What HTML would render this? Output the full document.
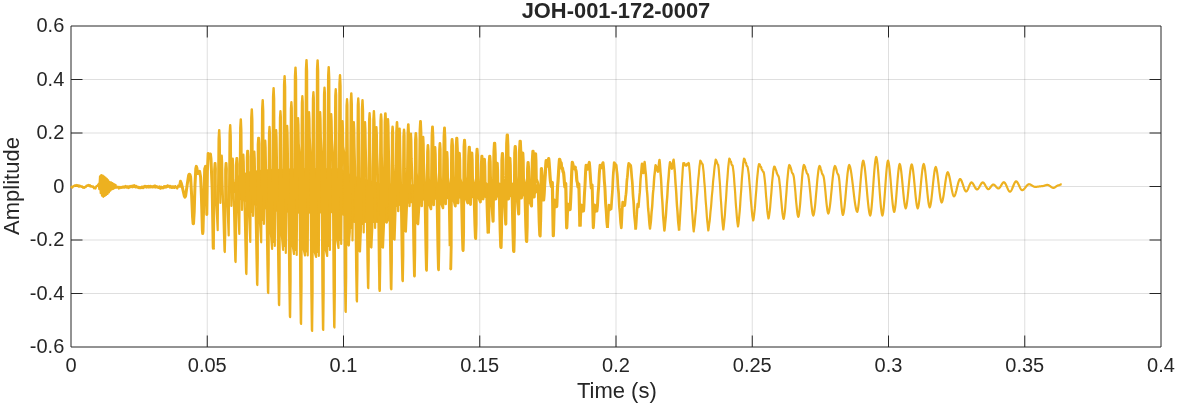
<!DOCTYPE html>
<html lang="en"><head><meta charset="utf-8"><title>JOH-001-172-0007</title>
<style>html,body{margin:0;padding:0;background:#fff}svg{display:block}text{font-family:"Liberation Sans",sans-serif;fill:#262626}</style></head><body>
<svg width="1177" height="404" viewBox="0 0 1177 404">
<rect width="1177" height="404" fill="#fff"/>
<path d="M207.25,26 V347 M343.50,26 V347 M479.75,26 V347 M616.00,26 V347 M752.25,26 V347 M888.50,26 V347 M1024.75,26 V347" stroke="#262626" stroke-opacity="0.15" stroke-width="1" fill="none"/>
<path d="M71,79.50 H1161 M71,133.00 H1161 M71,186.50 H1161 M71,240.00 H1161 M71,293.50 H1161" stroke="#262626" stroke-opacity="0.15" stroke-width="1" fill="none"/>
<path d="M71,26 H1161 V347 H71 Z" fill="none" stroke="#262626" stroke-width="1"/>
<path d="M207.25,26 v11.5 M207.25,347 v-11.5 M343.50,26 v11.5 M343.50,347 v-11.5 M479.75,26 v11.5 M479.75,347 v-11.5 M616.00,26 v11.5 M616.00,347 v-11.5 M752.25,26 v11.5 M752.25,347 v-11.5 M888.50,26 v11.5 M888.50,347 v-11.5 M1024.75,26 v11.5 M1024.75,347 v-11.5 M71,79.50 h11.5 M1161,79.50 h-11.5 M71,133.00 h11.5 M1161,133.00 h-11.5 M71,186.50 h11.5 M1161,186.50 h-11.5 M71,240.00 h11.5 M1161,240.00 h-11.5 M71,293.50 h11.5 M1161,293.50 h-11.5" stroke="#262626" stroke-width="1" fill="none"/>
<g fill="none" stroke="#EDB120" stroke-width="2.2" stroke-linejoin="round" stroke-linecap="butt">
<path d="M232.00,186.00 L232.95,188.74 L233.90,182.83 L234.85,192.22 L235.80,179.67 L236.75,195.71 L237.70,176.50 L238.65,198.27 L239.60,175.47 L240.55,199.06 L241.50,174.83 L242.45,199.85 L243.40,174.20 L244.35,200.65 L245.30,173.57 L246.25,201.44 L247.20,172.93 L248.15,202.23 L249.10,172.30 L250.05,203.02 L251.00,171.90 L251.95,203.68 L252.90,171.71 L253.85,204.35 L254.80,171.52 L255.75,205.01 L256.70,171.33 L257.65,205.68 L258.60,171.14 L259.55,206.34 L260.50,170.95 L261.45,207.01 L262.40,170.76 L263.35,207.67 L264.30,170.57 L265.25,208.34 L266.20,170.38 L267.15,209.00 L268.10,170.19 L269.05,209.67 L270.00,170.00 L270.95,210.09 L271.90,169.94 L272.85,210.28 L273.80,169.87 L274.75,210.47 L275.70,169.81 L276.65,210.66 L277.60,169.75 L278.55,210.85 L279.50,169.68 L280.45,211.04 L281.40,169.62 L282.35,211.23 L283.30,169.56 L284.25,211.42 L285.20,169.49 L286.15,211.61 L287.10,169.43 L288.05,211.80 L289.00,169.37 L289.95,211.99 L290.90,169.30 L291.85,212.18 L292.80,169.24 L293.75,212.37 L294.70,169.18 L295.65,212.56 L296.60,169.11 L297.55,212.75 L298.50,169.05 L299.45,212.94 L300.40,169.00 L301.35,212.97 L302.30,169.00 L303.25,212.92 L304.20,169.00 L305.15,212.87 L306.10,169.00 L307.05,212.82 L308.00,169.00 L308.95,212.78 L309.90,169.00 L310.85,212.73 L311.80,169.00 L312.75,212.68 L313.70,169.00 L314.65,212.63 L315.60,169.00 L316.55,212.59 L317.50,169.00 L318.45,212.54 L319.40,169.00 L320.35,212.49 L321.30,169.00 L322.25,212.44 L323.20,169.00 L324.15,212.40 L325.10,169.00 L326.05,212.35 L327.00,169.00 L327.95,212.30 L328.90,169.00 L329.85,212.25 L330.80,169.00 L331.75,212.21 L332.70,169.00 L333.65,212.16 L334.60,169.00 L335.55,212.11 L336.50,169.00 L337.45,212.06 L338.40,169.00 L339.35,212.02 L340.30,169.17 L341.25,213.04 L342.20,170.28 L343.15,214.62 L344.10,171.39 L345.05,216.21 L346.00,172.50 L346.95,217.79 L347.90,173.61 L348.85,219.37 L349.80,174.72 L350.75,220.96 L351.70,175.82 L352.65,222.00 L353.60,176.46 L354.55,222.00 L355.50,177.00 L356.45,222.00 L357.40,177.54 L358.35,222.00 L359.30,178.09 L360.25,222.00 L361.20,178.63 L362.15,222.00 L363.10,179.17 L364.05,222.00 L365.00,179.71 L365.95,222.00 L366.90,180.26 L367.85,222.00 L368.80,180.80 L369.75,222.00 L370.70,181.34 L371.65,222.00 L372.60,181.89 L373.55,222.00 L374.50,182.43 L375.45,222.00 L376.40,182.97 L377.35,222.00 L378.30,183.51 L379.25,222.00 L380.20,184.00 L381.15,222.00 L382.10,184.00 L383.05,222.00 L384.00,184.00 L384.95,222.00 L385.90,184.00 L386.85,222.00 L387.80,184.00 L388.75,220.50 L389.70,184.21 L390.65,216.70 L391.60,184.45 L392.55,212.90 L393.50,184.69 L394.45,209.10 L395.40,184.92 L396.35,205.91 L397.30,185.00 L398.25,205.44 L399.20,185.00 L400.15,204.96 L401.10,185.00 L402.05,204.49 L403.00,185.00 L403.95,204.01 L404.90,185.00 L405.85,203.54 L406.80,185.00 L407.75,203.06 L408.70,185.00 L409.65,202.59 L410.60,185.00 L411.55,202.11 L412.50,185.00 L413.45,201.64 L414.40,185.00 L415.35,201.16 L416.30,185.00 L417.25,200.69 L418.20,185.00 L419.15,200.21 L420.10,185.00 L421.05,199.93 L422.00,184.93 L422.95,199.80 L423.90,184.87 L424.85,199.68 L425.80,184.81 L426.75,199.55 L427.70,184.74 L428.65,199.42 L429.60,184.68 L430.55,199.30 L431.50,184.62 L432.45,199.17 L433.40,184.55 L434.35,199.04 L435.30,184.49 L436.25,198.92 L437.20,184.43 L438.15,198.79 L439.10,184.36 L440.05,198.66 L441.00,184.30 L441.95,198.54 L442.90,184.24 L443.85,198.41 L444.80,184.17 L445.75,198.28 L446.70,184.11 L447.65,198.16 L448.60,184.05 L449.55,198.03 L450.50,184.00 L451.45,197.95 L452.40,184.00 L453.35,197.89 L454.30,184.00 L455.25,197.83 L456.20,184.00 L457.15,197.76 L458.10,184.00 L459.05,197.70 L460.00,184.00 L460.95,197.64 L461.90,184.00 L462.85,197.57 L463.80,184.00 L464.75,197.51 L465.70,184.00 L466.65,197.45 L467.60,184.00 L468.55,197.38 L469.50,184.00 L470.45,197.32 L471.40,184.00 L472.35,197.26 L473.30,184.00 L474.25,197.19 L475.20,184.00 L476.15,197.13 L477.10,184.00 L478.05,197.07 L479.00,184.00 L479.95,197.00 L480.90,184.00 L481.85,196.95 L482.80,184.00 L483.75,196.91 L484.70,184.00 L485.65,196.86 L486.60,184.00 L487.55,196.81 L488.50,184.00 L489.45,196.76 L490.40,184.00 L491.35,196.72 L492.30,184.00 L493.25,196.67 L494.20,184.00 L495.15,196.62 L496.10,184.00 L497.05,196.57 L498.00,184.00 L498.95,196.53 L499.90,184.00 L500.85,196.48 L501.80,184.00 L502.75,196.43 L503.70,184.00 L504.65,196.38 L505.60,184.00 L506.55,196.34 L507.50,184.00 L508.45,196.29 L509.40,184.00 L510.35,196.24 L511.30,184.00 L512.25,196.19 L513.20,184.00 L514.15,196.15 L515.10,184.00 L516.05,196.10 L517.00,184.00 L517.95,196.05 L518.90,184.00 L519.85,196.00 L520.80,184.05 L521.75,195.67 L522.70,184.17 L523.65,195.32 L524.60,184.29 L525.55,194.96 L526.50,184.41 L527.45,194.60 L528.40,184.52 L529.35,194.25 L530.30,184.64 L531.25,193.89 L532.20,184.76 L533.15,193.53 L534.10,184.88 L535.05,193.18 L536.00,185.00 L536.95,192.21 L537.90,185.32 L538.85,190.63 L539.80,185.63 L540.75,189.04 L541.70,185.95 M251.65,200.0 V213.0 M262.55,200.0 V221.0 M273.45,200.0 V243.0 M284.45,200.0 V247.0 M295.35,200.0 V251.0 M306.35,200.0 V252.5 M317.45,200.0 V253.0 M328.55,200.0 V247.0 M339.85,200.0 V241.0 M351.15,200.0 V229.0 M362.35,200.0 V225.0 M373.75,200.0 V223.0 M385.25,200.0 V219.5"/>
<path d="M71.00,187.82 L71.63,186.76 L72.23,187.61 L72.96,186.39 L73.77,186.47 L74.53,185.41 L75.14,185.91 L76.09,184.97 L76.76,185.92 L77.78,185.15 L78.53,186.62 L79.11,185.45 L79.81,186.54 L80.43,185.82 L81.38,186.87 L82.22,186.35 L82.95,187.72 L83.55,187.06 L84.20,187.96 L84.97,186.76 L85.81,187.14 L86.51,185.54 L87.41,185.97 L88.25,184.82 L89.23,186.01 L89.92,185.04 L90.54,186.51 L91.46,186.09 L92.26,186.83 L93.14,186.44 L93.97,188.40 L94.68,187.58 L95.53,188.48 L96.31,186.28 L97.32,185.87 L98.60,184.00 L99.30,189.20 L100.00,176.30 L100.70,193.20 L101.30,175.00 L102.00,195.70 L102.70,175.60 L103.30,196.80 L104.00,176.60 L104.70,196.00 L105.40,177.60 L106.10,195.00 L106.80,178.80 L107.50,194.00 L108.20,180.30 L108.90,192.40 L109.60,182.00 L110.30,190.60 L111.00,182.40 L111.70,189.50 L112.40,183.00 L113.10,188.90 L113.90,184.00 L114.70,188.10 L115.50,184.80 L116.30,187.60 L117.00,187.66 L117.84,186.56 L118.81,188.57 L119.47,186.91 L120.29,187.99 L121.02,186.86 L121.60,187.77 L122.47,186.58 L123.11,187.68 L124.03,186.38 L124.75,187.64 L125.68,185.89 L126.59,187.55 L127.30,186.30 L128.22,188.07 L128.82,186.41 L129.45,187.49 L130.19,185.94 L130.83,187.07 L131.55,185.78 L132.33,187.37 L133.16,185.41 L133.97,187.06 L134.51,185.19 L135.39,187.42 L136.27,185.99 L136.98,187.47 L137.79,186.79 L138.34,188.04 L138.94,186.95 L139.49,188.16 L140.08,187.26 L140.77,188.19 L141.69,186.73 L142.28,188.03 L142.96,186.53 L143.55,188.03 L144.52,186.02 L145.26,187.13 L145.83,185.90 L146.47,187.54 L147.07,186.11 L148.03,187.44 L148.62,185.91 L149.15,187.55 L150.12,185.80 L150.96,187.40 L151.65,186.18 L152.52,187.41 L153.40,185.84 L154.02,187.41 L154.99,185.41 L155.88,187.49 L156.73,186.11 L157.49,187.60 L158.03,186.65 L158.68,187.95 L159.52,186.51 L160.24,188.79 L161.21,186.72 L161.90,188.31 L162.53,187.03 L163.15,188.27 L164.08,186.09 L164.82,187.68 L165.70,186.03 L166.52,187.39 L167.40,185.34 L168.14,186.85 L169.02,185.75 L169.91,187.65 L170.61,185.99 L171.56,187.74 L172.16,186.35 L172.76,187.92 L173.64,186.31 L174.54,187.87 L175.36,186.05 L176.13,187.24 L177.20,188.50 L178.30,185.50 L179.20,187.50" stroke-width="2.2"/>
<path d="M179.20,187.50 L179.90,184.50 L180.50,181.30 L181.20,183.00 L182.50,188.00 L184.30,196.00 L184.90,197.20 L185.60,196.00 L187.30,184.00 L188.60,175.50 L189.20,174.20 L189.90,174.40 L190.60,177.00 L191.60,195.00 L192.60,217.40 L193.10,223.70 L193.50,223.70 L194.20,212.00 L195.00,185.00 L195.80,168.50 L196.30,166.40 L196.90,168.00 L197.60,173.50 L198.40,172.50 L199.60,171.30 L200.60,177.00 L201.40,196.00 L202.40,230.40 L202.70,233.60 L203.00,231.40 L203.80,200.00 L204.70,169.00 L205.50,166.40 L206.20,171.00 L206.80,214.50 L207.40,171.00 L208.20,153.40 L209.30,158.00 L210.40,154.00 L211.00,159.00 L212.20,190.00 L213.20,247.40 L213.50,249.40" stroke-width="3.0"/>
<path d="M213.50,249.40 L213.90,234.40 L214.29,202.30 L214.24,169.80 L214.69,163.20 L215.39,163.20 L215.79,168.80 L215.69,176.00 L215.80,200.00 L216.30,202.00 L217.70,230.20 L218.30,167.52 L218.58,138.60 L219.08,130.00 L219.32,130.00 L219.80,140.60 L220.40,203.00 L221.40,162.50 L221.80,155.70 L222.15,162.50 L222.45,181.00 L223.95,233.95 L224.50,251.00 L224.80,252.00 L225.25,233.95 L225.29,202.30 L225.24,169.80 L225.69,163.20 L226.39,163.20 L226.79,168.80 L226.69,176.00 L226.80,200.00 L227.30,202.00 L228.70,235.50 L229.30,166.56 L229.58,133.80 L230.08,125.20 L230.32,125.20 L230.80,135.80 L231.40,206.00 L232.40,165.50 L232.80,158.70 L233.15,165.50 L233.45,184.00 L234.75,241.15 L235.30,261.00 L235.60,262.00 L236.05,241.15 L236.06,197.30 L236.01,164.80 L236.46,158.20 L237.16,158.20 L237.56,163.80 L237.46,176.00 L237.40,200.00 L237.90,205.00 L239.30,234.00 L239.90,162.33 L240.18,127.90 L240.68,119.30 L240.92,119.30 L241.40,129.90 L242.00,210.00 L243.00,161.50 L243.40,154.70 L243.75,161.50 L244.05,180.00 L245.55,249.79 L246.10,273.00 L246.40,274.00 L246.85,249.79 L246.89,190.00 L246.84,157.50 L247.29,150.90 L247.99,150.90 L248.39,156.50 L248.29,176.00 L248.40,198.00 L248.90,212.00 L250.30,241.90 L250.90,159.13 L251.18,117.90 L251.68,109.30 L251.92,109.30 L252.40,119.90 L253.00,216.00 L254.00,158.50 L254.40,151.70 L254.75,158.50 L255.05,177.00 L256.50,257.71 L257.05,284.00 L257.35,285.00 L257.80,257.71 L257.83,177.00 L257.78,144.50 L258.23,137.90 L258.93,137.90 L259.33,143.50 L259.23,176.00 L259.30,185.00 L259.80,220.00 L261.20,242.30 L261.80,153.64 L262.08,108.80 L262.58,100.20 L262.82,100.20 L263.30,110.80 L263.90,224.00 L264.90,147.50 L265.30,140.70 L265.65,147.50 L265.95,166.00 L267.40,263.47 L267.95,292.00 L268.25,293.00 L268.70,263.47 L268.73,166.00 L268.98,133.50 L269.43,126.90 L269.53,126.90 L269.93,132.50 L270.13,166.00 L270.20,174.00 L270.70,231.00 L272.10,249.00 L272.70,148.75 L272.98,96.80 L273.48,88.20 L273.72,88.20 L274.20,98.80 L274.80,246.00 L275.80,136.80 L276.20,130.00 L276.55,136.80 L276.85,155.30 L278.35,272.18 L278.90,304.10 L279.20,305.10 L279.65,272.18 L279.69,150.30 L279.94,117.80 L280.39,111.20 L280.49,111.20 L280.89,116.80 L281.09,150.30 L281.20,168.00 L281.70,234.00 L283.10,250.00 L283.70,141.69 L283.98,84.80 L284.48,76.20 L284.72,76.20 L285.20,86.80 L285.80,253.00 L286.80,132.70 L287.20,125.90 L287.55,132.70 L287.85,151.20 L289.30,280.82 L289.85,316.10 L290.15,317.10 L290.60,280.82 L290.63,141.30 L290.88,108.80 L291.33,102.20 L291.43,102.20 L291.83,107.80 L292.03,141.30 L292.10,168.00 L292.60,245.00 L294.00,254.00 L294.60,137.81 L294.88,76.10 L295.38,67.50 L295.62,67.50 L296.10,78.10 L296.70,255.00 L297.70,124.80 L298.10,118.00 L298.45,124.80 L298.75,143.30 L299.40,152.00 L300.25,285.72 L300.80,322.90 L301.10,323.90 L301.55,285.72 L301.59,135.30 L301.84,102.80 L302.29,96.20 L302.39,96.20 L302.79,101.80 L302.99,135.30 L303.10,168.00 L303.60,249.00 L305.00,255.50 L305.60,133.79 L305.88,68.70 L306.38,60.10 L306.62,60.10 L307.10,70.70 L307.70,255.50 L308.70,118.80 L309.10,112.00 L309.45,118.80 L309.75,137.30 L310.45,152.00 L311.30,290.76 L311.85,329.90 L312.15,330.90 L312.60,290.76 L312.65,131.30 L312.90,98.80 L313.35,92.20 L313.45,92.20 L313.85,97.80 L314.05,131.30 L314.20,168.00 L314.70,252.00 L316.10,257.00 L316.70,134.49 L316.98,68.90 L317.48,60.30 L317.72,60.30 L318.20,70.90 L318.80,256.00 L319.80,118.80 L320.20,112.00 L320.55,118.80 L320.85,137.30 L321.55,152.00 L322.40,290.04 L322.95,328.90 L323.25,329.90 L323.70,290.04 L323.75,126.70 L324.00,94.20 L324.45,87.60 L324.55,87.60 L324.95,93.20 L325.15,126.70 L325.30,168.00 L325.80,250.00 L327.20,256.00 L327.80,138.32 L328.08,75.70 L328.58,67.10 L328.82,67.10 L329.30,77.70 L329.90,250.00 L330.90,121.00 L331.30,114.20 L331.65,121.00 L331.95,139.50 L332.75,152.00 L333.60,288.31 L334.15,326.50 L334.45,327.50 L334.90,288.31 L334.97,128.30 L335.22,95.80 L335.67,89.20 L335.77,89.20 L336.17,94.80 L336.37,128.30 L336.60,168.00 L337.10,240.00 L338.50,248.00 L339.10,140.31 L339.38,83.80 L339.88,75.20 L340.12,75.20 L340.60,85.80 L341.20,244.00 L342.20,128.00 L342.60,121.20 L342.95,128.00 L343.25,146.50 L344.05,152.00 L344.90,277.08 L345.45,310.90 L345.75,311.90 L346.20,277.08 L346.27,138.30 L346.52,105.80 L346.97,99.20 L347.07,99.20 L347.47,104.80 L347.67,138.30 L347.90,168.00 L347.95,244.50 L348.80,245.50 L349.80,232.00 L350.40,145.51 L350.68,102.00 L351.18,93.40 L351.42,93.40 L351.90,104.00 L352.50,240.50 L353.50,129.00 L353.90,122.20 L354.25,129.00 L354.55,147.50 L355.05,168.00 L356.15,269.59 L356.70,300.50 L357.00,301.50 L357.45,269.59 L357.51,137.50 L357.76,105.00 L358.21,98.40 L358.31,98.40 L358.71,104.00 L358.91,137.50 L359.10,168.00 L359.15,250.50 L360.00,251.50 L361.00,228.00 L361.60,148.21 L361.88,108.80 L362.38,100.20 L362.62,100.20 L363.10,110.80 L363.70,232.50 L364.70,129.00 L365.10,122.20 L365.45,129.00 L365.75,147.50 L366.35,168.00 L367.45,260.01 L368.00,287.20 L368.30,288.20 L368.75,260.01 L368.82,152.30 L369.07,119.80 L369.52,113.20 L369.62,113.20 L370.02,118.80 L370.22,152.30 L370.50,168.00 L370.55,246.50 L371.40,247.50 L372.40,226.00 L373.00,154.27 L373.28,119.80 L373.78,111.20 L374.02,111.20 L374.50,121.80 L375.10,228.00 L376.10,134.00 L376.50,127.20 L376.85,134.00 L377.15,152.50 L377.80,168.00 L378.90,261.88 L379.45,289.80" stroke-width="2.2"/>
<path d="M379.45,289.80 L379.75,290.80 L380.20,261.88 L380.28,153.50 L380.53,121.00 L380.98,114.40 L381.08,114.40 L381.48,120.00 L381.68,153.50 L382.00,168.00 L382.05,246.50 L382.90,247.50 L383.90,224.00 L384.50,154.87 L384.78,122.00 L385.28,113.40 L385.52,113.40 L386.00,124.00 L386.60,222.50 L387.60,126.00 L388.00,119.20 L388.35,126.00 L388.65,144.50 L389.37,184.00 L390.45,260.73 L391.00,288.20 L391.30,289.20 L391.75,260.73 L391.84,165.90 L392.09,133.40 L392.54,126.80 L392.64,126.80 L393.04,132.40 L393.24,165.90 L393.60,173.90 L393.65,238.50 L394.50,239.50 L395.50,208.00 L396.10,154.25 L396.38,130.80 L396.88,122.20 L397.12,122.20 L397.60,132.80 L398.20,211.00 L399.20,135.40 L399.60,128.60 L399.95,135.40 L400.25,153.90 L400.82,184.00 L401.90,254.83 L402.45,280.00 L402.75,281.00 L403.20,254.83 L403.27,168.90 L403.52,136.40 L403.97,129.80 L404.07,129.80 L404.47,135.40 L404.67,168.90 L404.90,176.90 L404.95,230.50 L405.80,231.50 L406.80,207.00 L407.40,155.23 L407.68,133.00 L408.18,124.40 L408.42,124.40 L408.90,135.00 L409.50,206.00 L410.50,140.40 L410.90,133.60 L411.25,140.40 L411.55,158.90 L412.57,184.00 L413.65,251.37 L414.20,275.20 L414.50,276.20" stroke-width="2.4"/>
<path d="M414.20,275.20 L414.50,276.20 L414.95,251.37 L415.09,172.50 L415.34,140.00 L415.79,133.40 L415.89,133.40 L416.29,139.00 L416.49,172.50 L417.10,180.50 L417.15,223.00 L418.00,224.00 L419.00,207.00 L419.60,153.25 L419.88,129.80 L420.38,121.20 L420.62,121.20 L421.10,131.80 L421.70,206.00 L422.70,143.80 L423.10,137.00 L423.45,143.80 L423.75,162.30 L424.67,184.00 L425.75,247.27 L426.30,269.50 L426.60,270.50 L427.05,247.27 L427.17,184.50 L427.42,152.00 L427.87,145.40 L427.97,145.40 L428.37,151.00 L428.57,176.00 L429.10,192.50 L429.60,205.00 L431.00,209.00 L431.60,157.48 L431.88,135.40 L432.38,126.80 L432.62,126.80 L433.10,137.40 L433.70,205.00 L434.70,154.00 L435.10,147.20 L435.45,154.00 L435.75,172.50 L436.67,184.00 L437.75,246.84 L438.30,268.90 L438.60,269.90 L439.05,246.84 L439.17,182.50 L439.42,150.00 L439.87,143.40 L439.97,143.40 L440.37,149.00 L440.57,176.00 L441.10,190.50 L441.60,204.00 L443.00,208.00 L443.60,157.72 L443.88,136.40 L444.38,127.80 L444.62,127.80 L445.10,138.40 L445.70,204.00 L446.70,159.00 L447.10,152.20 L447.45,159.00 L447.75,177.50 L448.82,184.00 L449.90,246.12" stroke-width="2.6"/>
<path d="M450.45,267.90 L450.75,268.90 L451.20,246.12 L451.35,178.60 L451.60,146.10 L452.05,139.50 L452.15,139.50 L452.55,145.10 L452.75,176.00 L453.40,186.60 L453.90,200.00 L455.30,206.00 L455.90,163.41 L456.18,146.80 L456.68,138.20 L456.92,138.20 L457.40,148.80 L458.00,203.00 L459.00,159.90 L459.40,153.10 L459.75,159.90 L460.05,178.40 L461.22,184.00 L462.30,232.87 L462.85,249.50 L463.15,250.50 L463.60,232.87 L463.76,179.30 L464.01,146.80 L464.46,140.20 L464.56,140.20 L464.96,145.80 L465.16,176.00 L465.90,187.30 L466.40,199.00 L467.80,203.00 L468.40,167.78 L468.68,155.70 L469.18,147.10 L469.42,147.10 L469.90,157.70 L470.50,204.50 L471.50,159.70 L471.90,152.90 L472.25,159.70 L472.55,178.20 L473.77,184.00 L474.85,224.30 L475.40,237.60 L475.70,238.60 L476.15,224.30 L476.32,188.30 L476.57,155.80 L477.02,149.20 L477.12,149.20 L477.52,154.80 L477.72,176.00 L478.50,196.30 L479.00,198.30 L480.40,202.00 L481.00,173.11 L481.28,164.90 L481.78,156.30 L482.02,156.30 L482.50,166.90 L483.10,199.00 L484.10,166.10 L484.50,159.30 L484.85,166.10 L485.15,184.60 L486.42,184.00 L487.50,220.56 L488.05,232.40 L488.35,233.40" stroke-width="2.9"/>
<path d="M488.35,233.40 L488.80,220.56 L488.98,195.40 L489.23,162.90 L489.68,156.30 L489.78,156.30 L490.18,161.90 L490.38,176.00 L491.20,200.00 L491.70,202.00 L493.10,221.30 L493.70,172.32 L493.98,151.80 L494.48,143.20 L494.72,143.20 L495.20,153.80 L495.80,199.00 L496.80,170.00 L497.20,163.20 L497.55,170.00 L497.85,188.50 L499.12,184.00 L500.20,230.71 L500.75,246.50 L501.05,247.50 L501.50,230.71 L501.68,192.70 L501.93,160.20 L502.38,153.60 L502.48,153.60 L502.88,159.20 L503.08,176.00 L503.90,200.00 L504.40,202.00 L505.80,224.10 L506.40,168.36 L506.68,143.70 L507.18,135.10 L507.42,135.10 L507.90,145.70 L508.50,199.00 L509.50,165.00 L509.90,158.20 L510.25,165.00 L510.55,183.50 L511.92,184.00 L513.00,233.59 L513.55,250.50 L513.85,251.50 L514.30,233.59 L514.49,185.70 L514.74,153.20 L515.19,146.60 L515.29,146.60 L515.69,152.20 L515.89,176.00 L516.80,193.70 L517.30,199.00 L518.70,214.00 L519.30,168.31 L519.58,149.80 L520.08,141.20 L520.32,141.20 L520.80,151.80 L521.40,198.00 L522.40,159.90 L522.80,153.10 L523.15,159.90 L523.45,178.40 L524.77,184.00 L525.85,226.39 L526.40,240.50 L526.70,241.50 L527.15,226.39 L527.34,201.70 L527.59,169.20 L528.04,162.60 L528.14,162.60 L528.54,168.20 L528.74,176.00 L529.60,200.00 L530.10,202.00 L531.50,206.00 L532.10,171.59 L532.38,160.00 L532.88,151.40 L533.12,151.40 L533.60,162.00 L534.20,197.00 L535.20,160.50 L535.60,153.70 L535.95,160.50 L536.25,179.00 L538.17,184.00 L539.25,222.36 L539.80,234.90 L540.10,235.90 L540.50,222.00" stroke-width="3.1"/>
<path d="M540.55,222.36 L540.50,222.00 L540.73,210.73 L540.95,195.25 L541.17,179.77 L541.40,168.50 L541.60,170.52 L541.80,173.00 L542.00,175.89 L542.20,179.10 L542.40,182.51 L542.60,185.99 L542.80,189.40 L543.00,192.61 L543.20,195.50 L543.40,197.98 L543.60,200.00 L543.80,198.09 L544.00,195.84 L544.20,192.78 L544.40,188.93 L544.60,184.89 L544.80,181.34 L545.00,178.40 L545.20,175.55 L545.40,172.19 L545.60,168.36 L545.80,164.79 L546.00,162.16 L546.20,160.50 L546.44,161.41 L546.68,162.66 L546.92,164.04 L547.16,165.29 L547.40,166.20 L547.62,165.22 L547.83,163.91 L548.05,162.40 L548.27,160.89 L548.48,159.58 L548.70,158.60 L548.91,160.52 L549.12,162.96 L549.33,165.81 L549.54,168.94 L549.76,172.16 L549.97,175.29 L550.18,178.14 L550.39,180.58 L550.60,182.50 L550.87,183.71 L551.13,185.29 L551.40,186.50 L551.62,185.66 L551.85,184.50 L552.07,183.34 L552.30,182.50 L552.50,191.01 L552.70,202.64 L552.90,215.46 L553.10,227.09 L553.30,235.60 L553.52,229.89 L553.74,222.10 L553.96,213.50 L554.18,205.71 L554.40,200.00 L554.63,201.96 L554.87,204.54 L555.10,206.50 L555.37,205.44 L555.63,204.06 L555.90,203.00 L556.10,203.74 L556.30,204.75 L556.50,205.76 L556.70,206.50 L556.93,202.18 L557.15,196.25 L557.38,190.32 L557.60,186.00 L557.81,183.86 L558.02,181.15 L558.23,177.98 L558.44,174.49 L558.66,170.91 L558.87,167.42 L559.08,164.25 L559.29,161.54 L559.50,159.40 L559.70,159.41 L559.90,159.83 L560.10,160.98 L560.30,162.38 L560.50,163.22 L560.70,163.12 L560.90,162.62 L561.10,162.76 L561.30,164.10 L561.50,166.22 L561.70,168.00 L561.90,168.63 L562.10,168.26 L562.30,167.86 L562.50,168.31 L562.70,169.63 L562.90,171.10 L563.10,171.95 L563.30,172.10 L563.50,172.20 L563.73,174.11 L563.97,176.66 L564.20,179.60 L564.43,182.54 L564.67,185.09 L564.90,187.00 L565.10,186.26 L565.30,185.25 L565.50,184.24 L565.70,183.50 L565.90,190.60 L566.10,200.30 L566.30,211.00 L566.50,220.70 L566.70,227.80 L566.92,223.99 L567.14,218.77 L567.36,213.03 L567.58,207.81 L567.80,204.00 L568.03,205.81 L568.27,208.19 L568.50,210.00 L568.77,208.79 L569.03,207.21 L569.30,206.00 L569.50,206.74 L569.70,207.75 L569.90,208.76 L570.10,209.50 L570.32,206.14 L570.54,201.95 L570.76,197.05 L570.98,191.64 L571.20,185.95 L571.42,180.26 L571.64,174.85 L571.86,169.95 L572.08,165.76 L572.30,162.40 L572.51,162.98 L572.72,163.73 L572.94,164.60 L573.15,165.55 L573.36,166.50 L573.58,167.37 L573.79,168.12 L574.00,168.70 L574.22,168.51 L574.43,168.25 L574.65,167.95 L574.87,167.65 L575.08,167.39 L575.30,167.20 L575.51,168.80 L575.72,169.94 L575.92,170.49 L576.13,171.32 L576.34,173.34 L576.55,176.42 L576.75,179.36 L576.96,181.10 L577.17,181.75 L577.38,182.39 L577.58,183.83 L577.79,185.73 L578.00,187.00 L578.27,186.09 L578.53,184.91 L578.80,184.00 L579.00,189.47 L579.20,196.82 L579.40,205.25 L579.60,213.68 L579.80,221.03 L580.00,226.50" stroke-width="3.2"/>
<path d="M580.00,226.50 L580.20,223.73 L580.40,220.01 L580.60,215.75 L580.80,211.49 L581.00,207.77 L581.20,205.00 L581.43,206.96 L581.67,209.54 L581.90,211.50 L582.10,210.55 L582.30,209.25 L582.50,207.95 L582.70,207.00 L582.97,208.21 L583.23,209.79 L583.50,211.00 L583.70,209.10 L583.90,206.16 L584.10,201.99 L584.30,197.33 L584.50,193.25 L584.70,190.04 L584.90,186.98 L585.10,183.12 L585.30,178.34 L585.50,173.53 L585.70,169.74 L585.90,167.21 L586.10,165.20 L586.31,165.63 L586.53,166.19 L586.74,166.85 L586.96,167.55 L587.17,168.21 L587.39,168.77 L587.60,169.20 L587.81,168.57 L588.02,167.77 L588.24,166.82 L588.45,165.80 L588.66,164.78 L588.88,163.83 L589.09,163.03 L589.30,162.40 L589.50,164.23 L589.70,166.50 L589.90,169.17 L590.10,172.11 L590.30,175.20 L590.50,178.29 L590.70,181.23 L590.90,183.90 L591.10,186.17 L591.30,188.00 L591.50,187.37 L591.70,186.50 L591.90,185.63 L592.10,185.00 L592.34,191.84 L592.58,201.20 L592.82,211.50 L593.06,220.86 L593.30,227.70 L593.52,224.78 L593.73,220.85 L593.95,216.35 L594.17,211.85 L594.38,207.92 L594.60,205.00 L594.83,206.96 L595.07,209.54 L595.30,211.50 L595.50,210.55 L595.70,209.25 L595.90,207.95 L596.10,207.00 L596.37,208.21 L596.63,209.79 L596.90,211.00 L597.10,209.14 L597.30,207.43 L597.50,205.05 L597.70,201.58 L597.90,197.45 L598.10,193.65 L598.30,190.79 L598.50,188.54 L598.70,185.94 L598.90,182.33 L599.10,178.03 L599.30,174.02 L599.50,171.08 L599.70,169.10 L599.90,167.34 L600.10,165.20 L600.33,165.52 L600.57,165.95 L600.80,166.45 L601.03,166.95 L601.27,167.38 L601.50,167.70 L601.71,167.16 L601.93,166.46 L602.14,165.63 L602.36,164.77 L602.57,163.94 L602.79,163.24 L603.00,162.70 L603.20,164.69 L603.41,166.45 L603.61,168.59 L603.82,171.64 L604.02,175.40 L604.23,179.10 L604.43,182.05 L604.64,184.37 L604.84,186.90 L605.05,190.46 L605.25,195.06 L605.45,199.82 L605.66,203.71 L605.86,206.46 L606.07,208.73 L606.27,211.42 L606.48,214.89 L606.68,218.63 L606.89,221.83 L607.09,224.13 L607.30,225.90 L607.50,227.80" stroke-width="3.0"/>
<path d="M607.50,227.80 L607.73,224.86 L607.97,220.92 L608.20,216.40 L608.43,211.88 L608.67,207.94 L608.90,205.00 L609.13,206.51 L609.37,208.49 L609.60,210.00 L609.87,208.79 L610.13,207.21 L610.40,206.00 L610.63,206.91 L610.87,208.09 L611.10,209.00 L611.31,207.16 L611.51,204.19 L611.72,200.71 L611.93,197.57 L612.13,195.05 L612.34,192.48 L612.55,188.96 L612.75,184.34 L612.96,179.48 L613.17,175.48 L613.37,172.68 L613.58,170.45 L613.79,167.96 L613.99,165.14 L614.20,162.70 L614.40,162.86 L614.60,163.07 L614.80,163.31 L615.00,163.57 L615.20,163.85 L615.40,164.13 L615.60,164.39 L615.80,164.63 L616.00,164.84 L616.20,165.00 L616.40,166.86 L616.61,168.98 L616.81,170.84 L617.02,172.41 L617.22,174.22 L617.42,176.86 L617.63,180.34 L617.83,184.00 L618.04,187.01 L618.24,189.17 L618.44,191.07 L618.65,193.65 L618.85,197.28 L619.06,201.46 L619.26,205.22 L619.46,207.94 L619.67,209.86 L619.87,211.79 L620.08,214.38 L620.28,217.54 L620.48,220.62 L620.69,223.01 L620.89,224.69 L621.10,226.16 L621.30,227.90 L621.50,225.12 L621.70,221.46 L621.90,217.19 L622.10,212.71 L622.30,208.44 L622.50,204.78 L622.70,202.00 L622.93,203.21 L623.17,204.79 L623.40,206.00 L623.63,205.09 L623.87,203.91 L624.10,203.00 L624.30,203.75 L624.50,204.75 L624.70,205.50 L624.90,204.40 L625.10,202.61 L625.30,200.25 L625.50,197.91 L625.70,196.09 L625.90,194.71 L626.10,193.07 L626.30,190.52 L626.50,187.09 L626.70,183.53 L626.90,180.71 L627.10,178.85 L627.30,177.40 L627.50,175.56 L627.70,172.98 L627.90,170.09 L628.10,167.61 L628.30,165.90 L628.50,164.70 L628.70,163.40 L628.90,163.54 L629.10,163.72 L629.30,163.93 L629.50,164.16 L629.70,164.40 L629.90,164.64 L630.10,164.87 L630.30,165.08 L630.50,165.26 L630.70,165.40 L630.90,166.82 L631.11,168.60 L631.31,171.03 L631.52,173.84 L631.72,176.45 L631.92,178.53 L632.13,180.38 L632.33,182.72 L632.54,186.02 L632.74,190.02 L632.94,193.87 L633.15,196.88 L633.35,199.08 L633.56,201.22 L633.76,204.09 L633.96,207.78 L634.17,211.67 L634.37,214.93 L634.58,217.26 L634.78,219.06 L634.98,221.00 L635.19,223.37 L635.39,225.88 L635.60,228.01 L635.80,229.50" stroke-width="2.7"/>
<path d="M635.80,229.50 L636.00,227.45 L636.20,224.85 L636.40,221.81 L636.60,218.47 L636.80,215.03 L637.00,211.69 L637.20,208.65 L637.40,206.05 L637.60,204.00 L637.87,204.91 L638.13,206.09 L638.40,207.00 L638.60,205.68 L638.80,203.63 L639.00,200.96 L639.20,198.26 L639.40,196.06 L639.60,194.24 L639.80,192.15 L640.00,189.18 L640.20,185.40 L640.40,181.56 L640.60,178.45 L640.80,176.27 L641.00,174.46 L641.20,172.35 L641.40,169.74 L641.60,167.09 L641.80,164.98 L642.00,163.64 L642.23,164.86 L642.47,166.49 L642.70,168.37 L642.93,170.24 L643.17,171.88 L643.40,173.10 L643.60,171.68 L643.80,169.77 L644.00,167.58 L644.20,165.39 L644.40,163.48 L644.60,162.06 L644.81,163.54 L645.02,165.61 L645.22,168.08 L645.43,170.45 L645.64,172.41 L645.85,174.22 L646.05,176.51 L646.26,179.70 L646.47,183.48 L646.68,187.07 L646.88,189.88 L647.09,192.04 L647.30,194.33 L647.51,197.42 L647.72,201.30 L647.92,205.25 L648.13,208.46 L648.34,210.78 L648.55,212.73 L648.75,215.02 L648.96,217.86 L649.17,220.86 L649.38,223.41 L649.58,225.30 L649.79,226.84 L650.00,228.50 L650.20,226.80 L650.40,225.25 L650.60,223.86 L650.80,222.29 L651.00,220.14 L651.20,217.38 L651.40,214.46 L651.60,211.94 L651.80,210.01 L652.00,208.27 L652.20,206.05 L652.40,202.98 L652.60,199.35 L652.80,195.90 L653.00,193.21 L653.20,191.25 L653.40,189.40 L653.60,187.01 L653.80,183.93 L654.00,180.63 L654.20,177.77 L654.40,175.67 L654.60,174.08 L654.80,172.48 L655.00,170.57 L655.20,168.47 L655.40,166.60 L655.60,165.23 L655.81,165.64 L656.02,166.15 L656.23,166.74 L656.44,167.40 L656.65,168.09 L656.85,168.80 L657.06,169.50 L657.27,170.15 L657.48,170.74 L657.69,171.25 L657.90,171.66 L658.10,170.59 L658.30,169.21 L658.50,167.59 L658.70,165.84 L658.90,164.09 L659.10,162.47 L659.30,161.09 L659.50,160.02 L659.70,161.71 L659.91,163.84 L660.11,166.57 L660.32,169.64 L660.52,172.52 L660.73,175.01 L660.93,177.42 L661.13,180.39 L661.34,184.21 L661.54,188.54 L661.75,192.65 L661.95,196.00 L662.15,198.74 L662.36,201.54 L662.56,204.98 L662.77,209.02 L662.97,213.05 L663.17,216.42 L663.38,219.01 L663.58,221.21 L663.79,223.54 L663.99,226.10 L664.20,228.57 L664.40,230.50 L664.60,229.11 L664.80,227.27 L665.00,225.00 L665.20,222.64 L665.40,220.55 L665.60,218.74 L665.80,216.81 L666.00,214.27 L666.20,211.02 L666.40,207.48 L666.60,204.29 L666.80,201.78 L667.00,199.66 L667.20,197.30 L667.40,194.23 L667.60,190.56 L667.80,186.91 L668.00,183.87 L668.20,181.58 L668.40,179.61 L668.60,177.39 L668.80,174.70 L669.00,171.80 L669.20,169.19 L669.40,167.15 L669.60,165.54 L669.80,164.00 L670.00,162.30 L670.21,162.82 L670.42,163.47 L670.63,164.24 L670.84,165.09 L671.06,165.96 L671.27,166.80 L671.48,167.57 L671.69,168.23 L671.90,168.74 L672.11,167.92 L672.33,166.86 L672.54,165.61 L672.75,164.27 L672.96,162.92 L673.17,161.68 L673.39,160.62 L673.60,159.79 L673.80,161.53 L674.01,163.68 L674.21,165.87 L674.41,167.83 L674.62,169.74 L674.82,172.02 L675.03,174.98 L675.23,178.47 L675.43,181.90 L675.64,184.81 L675.84,187.21 L676.04,189.65 L676.25,192.71 L676.45,196.47 L676.66,200.43 L676.86,203.92 L677.06,206.66 L677.27,208.95 L677.47,211.39 L677.67,214.33 L677.88,217.58 L678.08,220.62 L678.29,223.06 L678.49,224.98 L678.69,226.73 L678.90,228.59 L679.10,230.50" stroke-width="2.45"/>
<path d="M679.10,230.50 L679.31,228.31 L679.52,226.06 L679.73,223.26 L679.94,219.73 L680.15,215.77 L680.36,212.01 L680.57,208.70 L680.78,205.50 L680.99,201.79 L681.20,197.28 L681.41,192.40 L681.62,187.91 L681.83,184.23 L682.04,181.12 L682.25,177.99 L682.46,174.49 L682.67,170.89 L682.88,167.71 L683.09,165.22 L683.30,163.20 L683.51,163.51 L683.72,163.96 L683.92,164.00 L684.13,163.58 L684.34,163.26 L684.55,163.60 L684.75,164.51 L684.96,165.35 L685.17,165.54 L685.38,165.20 L685.58,164.91 L685.79,165.08 L686.00,165.50 L686.21,165.51 L686.41,165.71 L686.62,165.52 L686.83,164.82 L687.04,164.06 L687.24,163.84 L687.45,164.24 L687.66,164.73 L687.86,164.70 L688.07,164.06 L688.28,163.31 L688.49,163.00 L688.69,163.13 L688.90,163.20 L689.10,165.25 L689.30,167.45 L689.50,169.55 L689.70,171.66 L689.90,174.14 L690.10,177.26 L690.30,180.87 L690.50,184.49 L690.70,187.70 L690.90,190.48 L691.10,193.28 L691.30,196.58 L691.50,200.49 L691.70,204.61 L691.90,208.35 L692.10,211.41 L692.30,214.00 L692.50,216.59 L692.70,219.48 L692.90,222.57 L693.10,225.46 L693.30,227.83 L693.50,229.74 L693.70,231.50 L693.91,229.92 L694.11,228.29 L694.32,226.78 L694.53,225.29 L694.73,223.48 L694.94,221.16 L695.14,218.52 L695.35,215.97 L695.56,213.82 L695.76,211.97 L695.97,209.93 L696.17,207.29 L696.38,204.09 L696.59,200.83 L696.79,198.03 L697.00,195.81 L697.21,193.79 L697.41,191.42 L697.62,188.44 L697.83,185.18 L698.03,182.18 L698.24,179.80 L698.44,177.90 L698.65,176.01 L698.86,173.78 L699.06,171.25 L699.27,168.79 L699.47,166.74 L699.68,165.13 L699.89,163.69 L700.09,162.18 L700.30,160.60 L700.50,160.83 L700.70,161.10 L700.90,161.42 L701.10,161.78 L701.30,162.16 L701.50,162.55 L701.70,162.94 L701.90,163.32 L702.10,163.68 L702.30,164.00 L702.50,164.27 L702.70,164.50 L702.91,166.23 L703.11,167.95 L703.32,169.60 L703.53,171.42 L703.74,173.71 L703.94,176.50 L704.15,179.45 L704.36,182.14 L704.57,184.45 L704.77,186.71 L704.98,189.40 L705.19,192.71 L705.40,196.33 L705.60,199.68 L705.81,202.45 L706.02,204.79 L706.23,207.23 L706.43,210.12 L706.64,213.35 L706.85,216.46 L707.06,219.05 L707.26,221.11 L707.47,222.97 L707.68,224.94 L707.89,227.03 L708.09,228.97 L708.30,230.50 L708.50,229.43 L708.70,228.07 L708.90,226.49 L709.10,224.89 L709.30,223.46 L709.50,222.11 L709.70,220.60 L709.90,218.66 L710.10,216.31 L710.30,213.87 L710.50,211.69 L710.70,209.89 L710.90,208.20 L711.10,206.22 L711.30,203.71 L711.50,200.83 L711.70,198.02 L711.90,195.65 L712.10,193.74 L712.30,191.93 L712.50,189.78 L712.70,187.14 L712.90,184.29 L713.10,181.67 L713.30,179.55 L713.50,177.84 L713.70,176.18 L713.90,174.23 L714.10,172.00 L714.30,169.74 L714.50,167.79 L714.70,166.23 L714.90,164.93 L715.10,163.62 L715.30,162.21 L715.50,160.80 L715.70,159.60 L715.91,159.89 L716.12,160.26 L716.33,160.70 L716.53,161.20 L716.74,161.74 L716.95,162.30 L717.16,162.86 L717.37,163.40 L717.58,163.90 L717.78,164.34 L717.99,164.71 L718.20,165.00 L718.40,166.43 L718.61,168.00 L718.81,169.97 L719.02,172.42 L719.22,175.12 L719.42,177.77 L719.63,180.20 L719.83,182.65 L720.04,185.47 L720.24,188.86 L720.44,192.59 L720.65,196.20 L720.85,199.34 L721.06,202.10 L721.26,204.86 L721.46,207.95 L721.67,211.35 L721.87,214.70 L722.08,217.61 L722.28,219.97 L722.48,222.02 L722.69,224.03 L722.89,226.09 L723.10,228.00 L723.30,229.50 L723.50,228.32 L723.70,226.78 L723.90,224.90 L724.10,222.86 L724.30,220.89 L724.50,219.00 L724.70,216.98 L724.90,214.54 L725.10,211.61 L725.30,208.44 L725.50,205.39 L725.70,202.70 L725.90,200.23 L726.10,197.60 L726.30,194.54 L726.50,191.10 L726.70,187.62 L726.90,184.52 L727.10,181.91 L727.30,179.55 L727.50,177.09 L727.70,174.36 L727.90,171.49 L728.10,168.84 L728.30,166.62 L728.50,164.82 L728.70,163.20 L728.90,161.58 L729.10,159.98 L729.30,158.60 L729.50,158.69 L729.70,158.90 L729.90,159.44 L730.10,160.21 L730.30,160.89 L730.50,161.22 L730.70,161.30 L730.90,161.50 L731.10,162.11 L731.30,163.09 L731.50,164.06 L731.70,164.66 L731.90,164.86 L732.10,164.93 L732.30,165.19 L732.50,165.63 L732.70,166.00 L732.90,167.31 L733.11,168.83 L733.31,170.38 L733.52,172.00 L733.72,173.91 L733.92,176.33 L734.13,179.17 L734.33,182.10 L734.53,184.82 L734.74,187.29 L734.94,189.80 L735.15,192.70 L735.35,196.06 L735.55,199.57 L735.76,202.81 L735.96,205.56 L736.17,207.98 L736.37,210.41 L736.57,213.09 L736.78,215.89 L736.98,218.48 L737.18,220.62 L737.39,222.31 L737.59,223.77 L737.80,225.18 L738.00,226.50 L738.20,225.41 L738.40,224.24 L738.60,222.79 L738.80,220.93 L739.00,218.76 L739.20,216.52 L739.40,214.40 L739.60,212.35 L739.80,210.11 L740.00,207.43 L740.20,204.32 L740.40,201.04 L740.60,197.98 L740.80,195.28 L741.00,192.76 L741.20,190.07 L741.40,187.01 L741.60,183.68 L741.80,180.45 L742.00,177.62 L742.20,175.25 L742.40,173.09 L742.60,170.85 L742.80,168.46 L743.00,166.09 L743.20,163.99 L743.40,162.32 L743.60,160.97 L743.80,159.77 L744.00,158.60 L744.20,158.92 L744.40,159.06 L744.60,159.22 L744.80,159.63 L745.00,160.41 L745.20,161.33 L745.40,162.05 L745.60,162.41 L745.80,162.59 L746.00,162.94 L746.20,163.66 L746.40,164.63 L746.60,165.50 L746.80,166.00 L747.00,166.19 L747.20,166.34 L747.40,166.62 L747.60,167.00 L747.80,167.88 L748.00,169.07 L748.20,170.38 L748.40,171.68 L748.60,173.05 L748.80,174.71 L749.00,176.81 L749.20,179.27 L749.40,181.78 L749.60,184.09 L749.80,186.18 L750.00,188.28 L750.20,190.71 L750.40,193.53 L750.60,196.53 L750.80,199.32 L751.00,201.70 L751.20,203.75 L751.40,205.77 L751.60,207.98 L751.80,210.35 L752.00,212.63 L752.20,214.55 L752.40,216.05 L752.60,217.28 L752.80,218.43 L753.00,219.55 L753.20,220.50 L753.41,219.71 L753.61,218.72 L753.82,217.36 L754.03,215.63 L754.24,213.74 L754.44,211.90 L754.65,210.13 L754.86,208.18 L755.06,205.82 L755.27,203.01 L755.48,200.03 L755.69,197.26 L755.89,194.81 L756.10,192.49 L756.31,189.97 L756.51,187.09 L756.72,184.02 L756.93,181.14 L757.14,178.71 L757.34,176.66 L757.55,174.72 L757.76,172.68 L757.96,170.55 L758.17,168.60 L758.38,167.03 L758.59,165.85 L758.79,164.89 L759.00,164.00 L759.20,164.23 L759.40,164.34 L759.60,164.39 L759.80,164.58 L760.00,165.05 L760.20,165.72 L760.40,166.33 L760.60,166.67 L760.80,166.77 L761.00,166.91 L761.20,167.35 L761.40,168.12 L761.60,168.98 L761.80,169.60 L762.00,169.88 L762.20,169.96 L762.40,170.12 L762.60,170.54 L762.80,171.10 L763.00,171.59 L763.20,171.84 L763.40,171.91 L763.60,172.00 L763.80,172.65 L764.01,173.65 L764.21,175.07 L764.42,176.82 L764.62,178.64 L764.83,180.43 L765.03,182.28 L765.23,184.45 L765.44,187.08 L765.64,190.02 L765.85,192.93 L766.05,195.55 L766.25,197.88 L766.46,200.18 L766.66,202.71 L766.87,205.43 L767.07,208.10 L767.27,210.39 L767.48,212.23 L767.68,213.74 L767.89,215.14 L768.09,216.48 L768.30,217.64 L768.50,218.40 L768.70,217.82 L768.91,216.90 L769.11,215.62 L769.31,214.16 L769.52,212.67 L769.72,211.17 L769.92,209.49 L770.13,207.43 L770.33,204.96 L770.54,202.29 L770.74,199.73 L770.94,197.42 L771.15,195.22 L771.35,192.85 L771.55,190.16 L771.76,187.25 L771.96,184.44 L772.16,181.99 L772.37,179.91 L772.57,178.00 L772.78,176.02 L772.98,173.95 L773.18,171.97 L773.39,170.30 L773.59,169.03 L773.79,168.06 L774.00,167.24 L774.20,166.50 L774.41,166.70 L774.62,166.82 L774.83,167.04 L775.04,167.53 L775.25,168.28 L775.46,169.03 L775.67,169.55 L775.88,169.86 L776.09,170.23 L776.30,170.91 L776.51,171.89 L776.72,172.86 L776.93,173.55 L777.14,173.91 L777.35,174.17 L777.56,174.56 L777.77,175.11 L777.98,175.63 L778.19,175.93 L778.40,176.00 L778.60,176.53 L778.80,177.18 L779.00,178.12 L779.20,179.43 L779.40,181.06 L779.60,182.81 L779.80,184.51 L780.00,186.19 L780.20,188.02 L780.40,190.19 L780.60,192.71 L780.80,195.35 L781.00,197.82 L781.20,200.00 L781.40,202.00 L781.60,204.05 L781.80,206.29 L782.00,208.63 L782.20,210.82 L782.40,212.64 L782.60,214.09 L782.80,215.30 L783.00,216.44 L783.20,217.51 L783.40,218.38 L783.60,218.90 L783.80,218.40 L784.01,217.54 L784.21,216.32 L784.41,214.89 L784.62,213.39 L784.82,211.82 L785.02,210.01 L785.23,207.80 L785.43,205.22 L785.64,202.47 L785.84,199.82 L786.04,197.34 L786.25,194.91 L786.45,192.30 L786.65,189.40 L786.86,186.36 L787.06,183.45 L787.26,180.89 L787.47,178.65 L787.67,176.56 L787.88,174.43 L788.08,172.27 L788.28,170.27 L788.49,168.62 L788.69,167.37 L788.89,166.41 L789.10,165.63 L789.30,165.00 L789.51,165.17 L789.71,165.31 L789.92,165.58 L790.12,166.13 L790.33,166.91 L790.53,167.70 L790.74,168.30 L790.94,168.73 L791.15,169.21 L791.36,169.93 L791.56,170.87 L791.77,171.81 L791.97,172.49 L792.18,172.87 L792.38,173.13 L792.59,173.43 L792.79,173.78 L793.00,174.00 L793.20,174.49 L793.41,175.22 L793.61,176.08 L793.82,177.09 L794.02,178.40 L794.22,180.10 L794.43,182.12 L794.63,184.26 L794.83,186.32 L795.04,188.31 L795.24,190.39 L795.45,192.74 L795.65,195.36 L795.85,198.06 L796.06,200.56 L796.26,202.74 L796.47,204.71 L796.67,206.66 L796.87,208.68 L797.08,210.68 L797.28,212.45 L797.48,213.86 L797.69,214.91 L797.89,215.72 L798.10,216.40 L798.30,216.90 L798.50,216.48 L798.70,215.86 L798.90,214.92 L799.10,213.59 L799.30,211.95 L799.50,210.16 L799.70,208.33 L799.90,206.42 L800.10,204.29 L800.30,201.83 L800.50,199.05 L800.70,196.17 L800.90,193.40 L801.10,190.83 L801.30,188.35 L801.50,185.79 L801.70,183.06 L801.90,180.27 L802.10,177.64 L802.30,175.34 L802.50,173.39 L802.70,171.65 L802.90,170.00 L803.10,168.43 L803.30,167.07 L803.50,166.04 L803.70,165.38 L803.90,165.00 L804.11,165.19 L804.31,165.51 L804.52,165.81 L804.72,166.10 L804.93,166.51 L805.13,167.19 L805.34,168.09 L805.54,169.00 L805.75,169.74 L805.96,170.28 L806.16,170.77 L806.37,171.40 L806.57,172.16 L806.78,172.90 L806.98,173.42 L807.19,173.71 L807.39,173.85 L807.60,174.00 L807.80,174.28 L808.01,174.87 L808.21,175.74 L808.41,176.78 L808.62,177.89 L808.82,179.10 L809.02,180.53 L809.23,182.26 L809.43,184.28 L809.64,186.41 L809.84,188.48 L810.04,190.44 L810.25,192.39 L810.45,194.50 L810.65,196.81 L810.86,199.20 L811.06,201.47 L811.26,203.47 L811.47,205.24 L811.67,206.92 L811.88,208.60 L812.08,210.26 L812.28,211.77 L812.49,213.00 L812.69,213.91 L812.89,214.59 L813.10,215.12 L813.30,215.50 L813.50,215.15 L813.70,214.65 L813.90,213.91 L814.10,212.89 L814.30,211.60 L814.50,210.14 L814.70,208.62 L814.90,207.05 L815.10,205.34 L815.30,203.39 L815.50,201.16 L815.70,198.78 L815.90,196.41 L816.10,194.15 L816.30,191.98 L816.50,189.76 L816.70,187.40 L816.90,184.92 L817.10,182.47 L817.30,180.21 L817.50,178.20 L817.70,176.37 L817.90,174.62 L818.10,172.88 L818.30,171.22 L818.50,169.75 L818.70,168.56 L818.90,167.64 L819.10,166.94 L819.30,166.39 L819.50,166.00 L819.71,166.14 L819.91,166.33 L820.12,166.69 L820.32,167.28 L820.53,168.03 L820.74,168.78 L820.94,169.43 L821.15,170.03 L821.35,170.70 L821.56,171.53 L821.76,172.42 L821.97,173.22 L822.18,173.81 L822.38,174.21 L822.59,174.52 L822.79,174.80 L823.00,175.00 L823.20,175.36 L823.41,175.99 L823.61,176.80 L823.82,177.75 L824.02,178.90 L824.22,180.32 L824.43,182.03 L824.63,183.94 L824.83,185.92 L825.04,187.87 L825.24,189.83 L825.45,191.89 L825.65,194.11 L825.85,196.45 L826.06,198.75 L826.26,200.87 L826.47,202.79 L826.67,204.57 L826.87,206.30 L827.08,207.98 L827.28,209.52 L827.48,210.83 L827.69,211.84 L827.89,212.58 L828.10,213.13 L828.30,213.50 L828.50,213.18 L828.70,212.73 L828.90,212.10 L829.10,211.25 L829.30,210.17 L829.50,208.91 L829.70,207.57 L829.90,206.16 L830.10,204.66 L830.30,202.99 L830.50,201.11 L830.70,199.07 L830.90,196.98 L831.10,194.93 L831.30,192.93 L831.50,190.92 L831.70,188.82 L831.90,186.62 L832.10,184.40 L832.30,182.26 L832.50,180.29 L832.70,178.47 L832.90,176.73 L833.10,175.02 L833.30,173.34 L833.50,171.78 L833.70,170.42 L833.90,169.27 L834.10,168.32 L834.30,167.51 L834.50,166.83 L834.70,166.31 L834.90,166.00 L835.11,166.11 L835.31,166.40 L835.52,166.88 L835.73,167.47 L835.93,168.09 L836.14,168.70 L836.34,169.37 L836.55,170.14 L836.76,171.01 L836.96,171.86 L837.17,172.60 L837.38,173.17 L837.58,173.62 L837.79,174.01 L837.99,174.32 L838.20,174.50 L838.40,174.95 L838.61,175.70 L838.81,176.73 L839.02,178.01 L839.22,179.59 L839.43,181.49 L839.63,183.64 L839.83,185.97 L840.04,188.37 L840.24,190.81 L840.45,193.32 L840.65,195.91 L840.86,198.56 L841.06,201.16 L841.27,203.61 L841.47,205.83 L841.67,207.85 L841.88,209.67 L842.08,211.30 L842.29,212.69 L842.49,213.76 L842.70,214.50 L842.90,214.90 L843.10,214.54 L843.31,213.96 L843.51,213.18 L843.71,212.23 L843.92,211.07 L844.12,209.70 L844.32,208.10 L844.53,206.33 L844.73,204.44 L844.93,202.47 L845.14,200.41 L845.34,198.23 L845.54,195.92 L845.75,193.51 L845.95,191.08 L846.15,188.69 L846.35,186.36 L846.56,184.07 L846.76,181.80 L846.96,179.56 L847.17,177.38 L847.37,175.35 L847.57,173.49 L847.78,171.81 L847.98,170.28 L848.18,168.91 L848.39,167.69 L848.59,166.68 L848.79,165.90 L849.00,165.34 L849.20,165.00 L849.40,165.25 L849.60,165.61 L849.80,166.08 L850.00,166.66 L850.20,167.37 L850.40,168.21 L850.60,169.18 L850.80,170.24 L851.00,171.38 L851.20,172.60 L851.40,173.89 L851.60,175.29 L851.80,176.79 L852.00,178.36 L852.20,179.98 L852.40,181.61 L852.60,183.26 L852.80,184.95 L853.00,186.68 L853.20,188.44 L853.40,190.21 L853.60,191.95 L853.80,193.65 L854.00,195.30 L854.20,196.93 L854.40,198.53 L854.60,200.09 L854.80,201.59 L855.00,203.00 L855.20,204.31 L855.40,205.53 L855.60,206.67 L855.80,207.72 L856.00,208.67 L856.20,209.51 L856.40,210.23 L856.60,210.82 L856.80,211.30 L857.00,211.66 L857.20,211.90 L857.40,211.52 L857.60,210.91 L857.80,210.07 L858.00,208.99 L858.20,207.69 L858.40,206.19 L858.60,204.50 L858.80,202.64 L859.00,200.61 L859.20,198.44 L859.40,196.14 L859.60,193.76 L859.80,191.30 L860.00,188.79 L860.20,186.25 L860.40,183.71 L860.60,181.20 L860.80,178.74 L861.00,176.36 L861.20,174.07 L861.40,171.90 L861.60,169.87 L861.80,168.00 L862.00,166.30 L862.20,164.80 L862.40,163.51 L862.60,162.44 L862.80,161.59 L863.00,160.98 L863.20,160.60 L863.40,160.93 L863.60,161.45 L863.80,162.15 L864.00,163.03 L864.20,164.09 L864.40,165.31 L864.60,166.70 L864.80,168.24 L865.00,169.93 L865.20,171.74 L865.40,173.67 L865.60,175.70 L865.80,177.82 L866.00,180.02 L866.20,182.27 L866.40,184.57 L866.60,186.89 L866.80,189.21 L867.00,191.53 L867.20,193.83 L867.40,196.08 L867.60,198.28 L867.80,200.40 L868.00,202.43 L868.20,204.36 L868.40,206.17 L868.60,207.86 L868.80,209.40 L869.00,210.79 L869.20,212.01 L869.40,213.07 L869.60,213.95 L869.80,214.65 L870.00,215.17 L870.20,215.50 L870.40,215.07 L870.60,214.37 L870.80,213.41 L871.00,212.18 L871.20,210.71 L871.40,209.00 L871.60,207.07 L871.80,204.93 L872.00,202.62 L872.20,200.14 L872.40,197.53 L872.60,194.81 L872.80,192.00 L873.00,189.14 L873.20,186.25 L873.40,183.36 L873.60,180.50 L873.80,177.69 L874.00,174.97 L874.20,172.36 L874.40,169.88 L874.60,167.57 L874.80,165.43 L875.00,163.50 L875.20,161.79 L875.40,160.32 L875.60,159.09 L875.80,158.13 L876.00,157.43 L876.20,157.00 L876.41,157.43 L876.61,158.13 L876.82,159.09 L877.03,160.32 L877.23,161.79 L877.44,163.50 L877.65,165.43 L877.85,167.57 L878.06,169.88 L878.27,172.36 L878.47,174.97 L878.68,177.69 L878.89,180.50 L879.09,183.36 L879.30,186.25 L879.51,189.14 L879.71,192.00 L879.92,194.81 L880.13,197.53 L880.33,200.14 L880.54,202.62 L880.75,204.93 L880.95,207.07 L881.16,209.00 L881.37,210.71 L881.57,212.18 L881.78,213.41 L881.99,214.37 L882.19,215.07 L882.40,215.50 L882.60,215.06 L882.80,214.33 L883.00,213.31 L883.20,212.01 L883.40,210.45 L883.60,208.64 L883.80,206.61 L884.00,204.36 L884.20,201.93 L884.40,199.35 L884.60,196.64 L884.80,193.83 L885.00,190.96 L885.20,188.05 L885.40,185.14 L885.60,182.27 L885.80,179.46 L886.00,176.75 L886.20,174.17 L886.40,171.74 L886.60,169.49 L886.80,167.46 L887.00,165.65 L887.20,164.09 L887.40,162.79 L887.60,161.77 L887.80,161.04 L888.00,160.60 L888.20,160.96 L888.40,161.54 L888.60,162.34 L888.80,163.36 L889.00,164.58 L889.20,166.00 L889.40,167.60 L889.60,169.37 L889.80,171.29 L890.00,173.35 L890.20,175.53 L890.40,177.81 L890.60,180.16 L890.80,182.58 L891.00,185.02 L891.20,187.48 L891.40,189.92 L891.60,192.34 L891.80,194.69 L892.00,196.97 L892.20,199.15 L892.40,201.21 L892.60,203.13 L892.80,204.90 L893.00,206.50 L893.20,207.92 L893.40,209.14 L893.60,210.16 L893.80,210.96 L894.00,211.54 L894.20,211.90 L894.40,211.50 L894.61,210.82 L894.81,209.87 L895.01,208.67 L895.22,207.22 L895.42,205.54 L895.63,203.65 L895.83,201.57 L896.03,199.33 L896.24,196.94 L896.44,194.45 L896.64,191.88 L896.85,189.27 L897.05,186.63 L897.26,184.02 L897.46,181.45 L897.66,178.96 L897.87,176.57 L898.07,174.33 L898.27,172.25 L898.48,170.36 L898.68,168.68 L898.89,167.23 L899.09,166.03 L899.29,165.08 L899.50,164.40 L899.70,164.00 L899.90,164.32 L900.10,164.85 L900.30,165.59 L900.50,166.51 L900.70,167.63 L900.90,168.92 L901.10,170.39 L901.30,172.00 L901.50,173.75 L901.70,175.63 L901.90,177.61 L902.10,179.67 L902.30,181.79 L902.50,183.96 L902.70,186.15 L902.90,188.34 L903.10,190.51 L903.30,192.63 L903.50,194.69 L903.70,196.67 L903.90,198.55 L904.10,200.30 L904.30,201.91 L904.50,203.38 L904.70,204.67 L904.90,205.79 L905.10,206.71 L905.30,207.45 L905.50,207.98 L905.70,208.30 L905.90,207.98 L906.10,207.45 L906.30,206.73 L906.50,205.81 L906.70,204.70 L906.90,203.42 L907.10,201.97 L907.30,200.37 L907.50,198.63 L907.70,196.78 L907.90,194.82 L908.10,192.77 L908.30,190.67 L908.50,188.52 L908.70,186.35 L908.90,184.18 L909.10,182.03 L909.30,179.93 L909.50,177.88 L909.70,175.92 L909.90,174.07 L910.10,172.33 L910.30,170.73 L910.50,169.28 L910.70,168.00 L910.90,166.89 L911.10,165.97 L911.30,165.25 L911.50,164.72 L911.70,164.40 L911.90,164.72 L912.10,165.25 L912.30,165.97 L912.50,166.89 L912.70,168.00 L912.90,169.28 L913.10,170.73 L913.30,172.33 L913.50,174.07 L913.70,175.92 L913.90,177.88 L914.10,179.93 L914.30,182.03 L914.50,184.18 L914.70,186.35 L914.90,188.52 L915.10,190.67 L915.30,192.77 L915.50,194.82 L915.70,196.78 L915.90,198.63 L916.10,200.37 L916.30,201.97 L916.50,203.42 L916.70,204.70 L916.90,205.81 L917.10,206.73 L917.30,207.45 L917.50,207.98 L917.70,208.30 L917.90,207.98 L918.10,207.45 L918.30,206.71 L918.50,205.79 L918.70,204.67 L918.90,203.38 L919.10,201.91 L919.30,200.30 L919.50,198.55 L919.70,196.67 L919.90,194.69 L920.10,192.63 L920.30,190.51 L920.50,188.34 L920.70,186.15 L920.90,183.96 L921.10,181.79 L921.30,179.67 L921.50,177.61 L921.70,175.63 L921.90,173.75 L922.10,172.00 L922.30,170.39 L922.50,168.92 L922.70,167.63 L922.90,166.51 L923.10,165.59 L923.30,164.85 L923.50,164.32 L923.70,164.00 L923.90,164.32 L924.10,164.84 L924.30,165.55 L924.50,166.46 L924.70,167.55 L924.90,168.81 L925.10,170.24 L925.30,171.82 L925.50,173.53 L925.70,175.37 L925.90,177.30 L926.10,179.31 L926.30,181.39 L926.50,183.51 L926.70,185.65 L926.90,187.79 L927.10,189.91 L927.30,191.99 L927.50,194.00 L927.70,195.93 L927.90,197.77 L928.10,199.48 L928.30,201.06 L928.50,202.49 L928.70,203.75 L928.90,204.84 L929.10,205.75 L929.30,206.46 L929.50,206.98 L929.70,207.30 L929.90,207.00 L930.10,206.52 L930.30,205.86 L930.50,205.01 L930.70,204.00 L930.90,202.82 L931.10,201.49 L931.30,200.02 L931.50,198.43 L931.70,196.72 L931.90,194.92 L932.10,193.05 L932.30,191.11 L932.50,189.14 L932.70,187.15 L932.90,185.16 L933.10,183.19 L933.30,181.25 L933.50,179.38 L933.70,177.58 L933.90,175.87 L934.10,174.28 L934.30,172.81 L934.50,171.48 L934.70,170.30 L934.90,169.29 L935.10,168.44 L935.30,167.78 L935.50,167.30 L935.70,167.00 L935.90,167.26 L936.10,167.68 L936.30,168.27 L936.50,169.01 L936.70,169.91 L936.90,170.95 L937.10,172.12 L937.30,173.41 L937.50,174.82 L937.70,176.32 L937.90,177.90 L938.10,179.56 L938.30,181.26 L938.50,183.00 L938.70,184.75 L938.90,186.50 L939.10,188.24 L939.30,189.94 L939.50,191.60 L939.70,193.18 L939.90,194.68 L940.10,196.09 L940.30,197.38 L940.50,198.55 L940.70,199.59 L940.90,200.49 L941.10,201.23 L941.30,201.82 L941.50,202.24 L941.70,202.50 L941.90,202.28 L942.10,201.92 L942.30,201.42 L942.50,200.78 L942.70,200.02 L942.90,199.13 L943.10,198.13 L943.30,197.03 L943.50,195.83 L943.70,194.55 L943.90,193.19 L944.10,191.78 L944.30,190.33 L944.50,188.85 L944.70,187.35 L944.90,185.85 L945.10,184.37 L945.30,182.92 L945.50,181.51 L945.70,180.15 L945.90,178.87 L946.10,177.67 L946.30,176.57 L946.50,175.57 L946.70,174.68 L946.90,173.92 L947.10,173.28 L947.30,172.78 L947.50,172.42 L947.70,172.20 L947.90,172.37 L948.11,172.64 L948.31,173.02 L948.51,173.50 L948.72,174.08 L948.92,174.75 L949.12,175.50 L949.33,176.34 L949.53,177.24 L949.73,178.22 L949.94,179.24 L950.14,180.32 L950.34,181.43 L950.55,182.57 L950.75,183.72 L950.95,184.88 L951.15,186.03 L951.36,187.17 L951.56,188.28 L951.76,189.36 L951.97,190.38 L952.17,191.36 L952.37,192.26 L952.58,193.10 L952.78,193.85 L952.98,194.52 L953.19,195.10 L953.39,195.58 L953.59,195.96 L953.80,196.23 L954.00,196.40 L954.20,196.27 L954.41,196.06 L954.61,195.78 L954.81,195.41 L955.02,194.97 L955.22,194.47 L955.42,193.89 L955.63,193.26 L955.83,192.57 L956.03,191.83 L956.24,191.06 L956.44,190.25 L956.64,189.41 L956.85,188.56 L957.05,187.70 L957.25,186.84 L957.46,185.99 L957.66,185.15 L957.86,184.34 L958.07,183.57 L958.27,182.83 L958.47,182.14 L958.68,181.51 L958.88,180.93 L959.08,180.43 L959.29,179.99 L959.49,179.62 L959.69,179.34 L959.90,179.13 L960.10,179.00 L960.30,179.09 L960.50,179.24 L960.70,179.45 L960.90,179.71 L961.10,180.02 L961.30,180.39 L961.50,180.80 L961.70,181.26 L961.90,181.75 L962.10,182.28 L962.30,182.84 L962.50,183.42 L962.70,184.02 L962.90,184.63 L963.10,185.25 L963.30,185.87 L963.50,186.48 L963.70,187.08 L963.90,187.66 L964.10,188.22 L964.30,188.75 L964.50,189.24 L964.70,189.70 L964.90,190.11 L965.10,190.48 L965.30,190.79 L965.50,191.05 L965.70,191.26 L965.90,191.41 L966.10,191.50 L966.31,191.42 L966.52,191.28 L966.72,191.09 L966.93,190.85 L967.14,190.55 L967.35,190.21 L967.55,189.83 L967.76,189.41 L967.97,188.96 L968.18,188.48 L968.38,187.98 L968.59,187.47 L968.80,186.95 L969.01,186.43 L969.22,185.92 L969.42,185.42 L969.63,184.94 L969.84,184.49 L970.05,184.07 L970.25,183.69 L970.46,183.35 L970.67,183.05 L970.88,182.81 L971.08,182.62 L971.29,182.48 L971.50,182.40 L971.70,182.46 L971.91,182.56 L972.11,182.70 L972.31,182.88 L972.52,183.09 L972.72,183.34 L972.93,183.62 L973.13,183.93 L973.33,184.26 L973.54,184.62 L973.74,184.99 L973.94,185.37 L974.15,185.75 L974.35,186.15 L974.56,186.53 L974.76,186.91 L974.96,187.28 L975.17,187.64 L975.37,187.97 L975.57,188.28 L975.78,188.56 L975.98,188.81 L976.19,189.02 L976.39,189.20 L976.59,189.34 L976.80,189.44 L977.00,189.50 L977.21,189.44 L977.41,189.35 L977.62,189.22 L977.83,189.05 L978.04,188.85 L978.24,188.61 L978.45,188.35 L978.66,188.06 L978.86,187.75 L979.07,187.41 L979.28,187.06 L979.49,186.70 L979.69,186.33 L979.90,185.95 L980.11,185.57 L980.31,185.20 L980.52,184.84 L980.73,184.49 L980.94,184.15 L981.14,183.84 L981.35,183.55 L981.56,183.29 L981.76,183.05 L981.97,182.85 L982.18,182.68 L982.39,182.55 L982.59,182.46 L982.80,182.40 L983.00,182.46 L983.21,182.55 L983.41,182.69 L983.61,182.86 L983.82,183.06 L984.02,183.30 L984.23,183.57 L984.43,183.87 L984.63,184.19 L984.84,184.52 L985.04,184.88 L985.24,185.24 L985.45,185.61 L985.65,185.99 L985.86,186.36 L986.06,186.72 L986.26,187.08 L986.47,187.41 L986.67,187.73 L986.87,188.03 L987.08,188.30 L987.28,188.54 L987.49,188.74 L987.69,188.91 L987.89,189.05 L988.10,189.14 L988.30,189.20 L988.50,189.16 L988.70,189.08 L988.90,188.98 L989.10,188.84 L989.30,188.68 L989.50,188.49 L989.70,188.28 L989.90,188.05 L990.10,187.80 L990.30,187.54 L990.50,187.27 L990.70,186.99 L990.90,186.71 L991.10,186.43 L991.30,186.16 L991.50,185.90 L991.70,185.65 L991.90,185.42 L992.10,185.21 L992.30,185.02 L992.50,184.86 L992.70,184.72 L992.90,184.62 L993.10,184.54 L993.30,184.50 L993.50,184.54 L993.70,184.60 L993.90,184.68 L994.10,184.79 L994.30,184.92 L994.50,185.07 L994.70,185.23 L994.90,185.42 L995.10,185.62 L995.30,185.83 L995.50,186.05 L995.70,186.27 L995.90,186.50 L996.10,186.73 L996.30,186.95 L996.50,187.17 L996.70,187.38 L996.90,187.58 L997.10,187.77 L997.30,187.93 L997.50,188.08 L997.70,188.21 L997.90,188.32 L998.10,188.40 L998.30,188.46 L998.50,188.50 L998.71,188.44 L998.92,188.35 L999.12,188.22 L999.33,188.05 L999.54,187.84 L999.75,187.61 L999.95,187.34 L1000.16,187.05 L1000.37,186.74 L1000.58,186.41 L1000.78,186.06 L1000.99,185.71 L1001.20,185.35 L1001.41,184.99 L1001.62,184.64 L1001.82,184.29 L1002.03,183.96 L1002.24,183.65 L1002.45,183.36 L1002.65,183.09 L1002.86,182.86 L1003.07,182.65 L1003.28,182.48 L1003.48,182.35 L1003.69,182.26 L1003.90,182.20 L1004.10,182.27 L1004.31,182.38 L1004.51,182.54 L1004.71,182.74 L1004.92,182.98 L1005.12,183.26 L1005.32,183.57 L1005.53,183.92 L1005.73,184.29 L1005.93,184.69 L1006.14,185.12 L1006.34,185.56 L1006.54,186.02 L1006.75,186.48 L1006.95,186.95 L1007.15,187.42 L1007.36,187.88 L1007.56,188.34 L1007.76,188.78 L1007.97,189.21 L1008.17,189.61 L1008.37,189.98 L1008.58,190.33 L1008.78,190.64 L1008.98,190.92 L1009.19,191.16 L1009.39,191.36 L1009.59,191.52 L1009.80,191.63 L1010.00,191.70 L1010.20,191.62 L1010.41,191.50 L1010.61,191.33 L1010.81,191.11 L1011.02,190.85 L1011.22,190.54 L1011.42,190.20 L1011.63,189.82 L1011.83,189.41 L1012.03,188.97 L1012.24,188.51 L1012.44,188.02 L1012.64,187.52 L1012.85,187.01 L1013.05,186.50 L1013.25,185.99 L1013.46,185.48 L1013.66,184.98 L1013.86,184.49 L1014.07,184.03 L1014.27,183.59 L1014.47,183.18 L1014.68,182.80 L1014.88,182.46 L1015.08,182.15 L1015.29,181.89 L1015.49,181.67 L1015.69,181.50 L1015.90,181.38 L1016.10,181.30 L1016.30,181.37 L1016.51,181.47 L1016.71,181.62 L1016.91,181.81 L1017.12,182.03 L1017.32,182.29 L1017.52,182.58 L1017.73,182.91 L1017.93,183.26 L1018.13,183.64 L1018.34,184.03 L1018.54,184.45 L1018.74,184.87 L1018.95,185.31 L1019.15,185.75 L1019.35,186.19 L1019.56,186.63 L1019.76,187.05 L1019.96,187.47 L1020.17,187.86 L1020.37,188.24 L1020.57,188.59 L1020.78,188.92 L1020.98,189.21 L1021.18,189.47 L1021.39,189.69 L1021.59,189.88 L1021.79,190.03 L1022.00,190.13 L1022.20,190.20 L1022.41,190.16 L1022.61,190.10 L1022.82,190.01 L1023.02,189.91 L1023.23,189.78 L1023.44,189.63 L1023.64,189.46 L1023.85,189.28 L1024.05,189.07 L1024.26,188.86 L1024.47,188.62 L1024.67,188.38 L1024.88,188.13 L1025.08,187.87 L1025.29,187.60 L1025.50,187.33 L1025.70,187.07 L1025.91,186.80 L1026.12,186.53 L1026.32,186.27 L1026.53,186.02 L1026.73,185.77 L1026.94,185.54 L1027.15,185.33 L1027.35,185.12 L1027.56,184.94 L1027.76,184.77 L1027.97,184.62 L1028.18,184.49 L1028.38,184.39 L1028.59,184.30 L1028.79,184.24 L1029.00,184.20 L1029.20,184.22 L1029.40,184.25 L1029.60,184.29 L1029.80,184.35 L1030.00,184.41 L1030.20,184.48 L1030.40,184.57 L1030.60,184.66 L1030.80,184.76 L1031.00,184.87 L1031.20,184.99 L1031.40,185.11 L1031.60,185.23 L1031.80,185.36 L1032.00,185.49 L1032.20,185.61 L1032.40,185.74 L1032.60,185.87 L1032.80,185.99 L1033.00,186.11 L1033.20,186.23 L1033.40,186.34 L1033.60,186.44 L1033.80,186.53 L1034.00,186.62 L1034.20,186.69 L1034.40,186.75 L1034.60,186.81 L1034.80,186.85 L1035.00,186.88 L1035.20,186.90 L1035.41,186.90 L1035.61,186.89 L1035.82,186.88 L1036.02,186.87 L1036.23,186.85 L1036.44,186.83 L1036.64,186.81 L1036.85,186.79 L1037.05,186.77 L1037.26,186.74 L1037.47,186.72 L1037.67,186.69 L1037.88,186.66 L1038.08,186.63 L1038.29,186.60 L1038.50,186.57 L1038.70,186.53 L1038.91,186.50 L1039.12,186.47 L1039.32,186.44 L1039.53,186.41 L1039.73,186.38 L1039.94,186.36 L1040.15,186.33 L1040.35,186.31 L1040.56,186.29 L1040.76,186.27 L1040.97,186.25 L1041.18,186.23 L1041.38,186.22 L1041.59,186.21 L1041.79,186.20 L1042.00,186.20 L1042.20,186.19 L1042.40,186.17 L1042.60,186.15 L1042.80,186.11 L1043.00,186.07 L1043.20,186.03 L1043.40,185.98 L1043.60,185.92 L1043.80,185.86 L1044.00,185.79 L1044.20,185.73 L1044.40,185.66 L1044.60,185.59 L1044.80,185.51 L1045.00,185.44 L1045.20,185.37 L1045.40,185.31 L1045.60,185.24 L1045.80,185.18 L1046.00,185.12 L1046.20,185.07 L1046.40,185.03 L1046.60,184.99 L1046.80,184.95 L1047.00,184.93 L1047.20,184.91 L1047.40,184.90 L1047.60,184.92 L1047.81,184.96 L1048.01,185.01 L1048.21,185.07 L1048.42,185.15 L1048.62,185.23 L1048.82,185.33 L1049.03,185.44 L1049.23,185.56 L1049.43,185.69 L1049.64,185.82 L1049.84,185.96 L1050.04,186.10 L1050.25,186.25 L1050.45,186.40 L1050.65,186.55 L1050.86,186.70 L1051.06,186.84 L1051.26,186.98 L1051.47,187.11 L1051.67,187.24 L1051.87,187.36 L1052.08,187.47 L1052.28,187.57 L1052.48,187.65 L1052.69,187.73 L1052.89,187.79 L1053.09,187.84 L1053.30,187.88 L1053.50,187.90 L1053.71,187.87 L1053.92,187.83 L1054.13,187.76 L1054.33,187.68 L1054.54,187.58 L1054.75,187.46 L1054.96,187.34 L1055.17,187.20 L1055.38,187.05 L1055.59,186.89 L1055.80,186.73 L1056.00,186.57 L1056.21,186.41 L1056.42,186.25 L1056.63,186.10 L1056.84,185.96 L1057.05,185.84 L1057.26,185.72 L1057.47,185.62 L1057.67,185.54 L1057.88,185.47 L1058.09,185.43 L1058.30,185.40 L1058.50,185.38 L1058.70,185.34 L1058.90,185.29 L1059.10,185.22 L1059.30,185.14 L1059.50,185.05 L1059.70,184.96 L1059.90,184.85 L1060.10,184.75 L1060.30,184.64 L1060.50,184.55 L1060.70,184.46 L1060.90,184.38 L1061.10,184.31 L1061.30,184.26 L1061.50,184.22 L1061.70,184.20" stroke-width="2.2"/>
</g>
<g font-size="20" text-anchor="middle">
<text x="71.00" y="372">0</text>
<text x="207.25" y="372">0.05</text>
<text x="343.50" y="372">0.1</text>
<text x="479.75" y="372">0.15</text>
<text x="616.00" y="372">0.2</text>
<text x="752.25" y="372">0.25</text>
<text x="888.50" y="372">0.3</text>
<text x="1024.75" y="372">0.35</text>
<text x="1161.00" y="372">0.4</text>
</g>
<g font-size="20" text-anchor="end">
<text x="64.3" y="32.30">0.6</text>
<text x="64.3" y="85.80">0.4</text>
<text x="64.3" y="139.30">0.2</text>
<text x="64.3" y="192.80">0</text>
<text x="64.3" y="246.30">-0.2</text>
<text x="64.3" y="299.80">-0.4</text>
<text x="64.3" y="353.30">-0.6</text>
</g>
<text x="616.8" y="397.5" font-size="22" text-anchor="middle">Time (s)</text>
<text transform="translate(19.4,186) rotate(-90)" font-size="22" text-anchor="middle">Amplitude</text>
<text x="616" y="17.6" font-size="21.9" font-weight="bold" text-anchor="middle">JOH-001-172-0007</text>
</svg></body></html>
